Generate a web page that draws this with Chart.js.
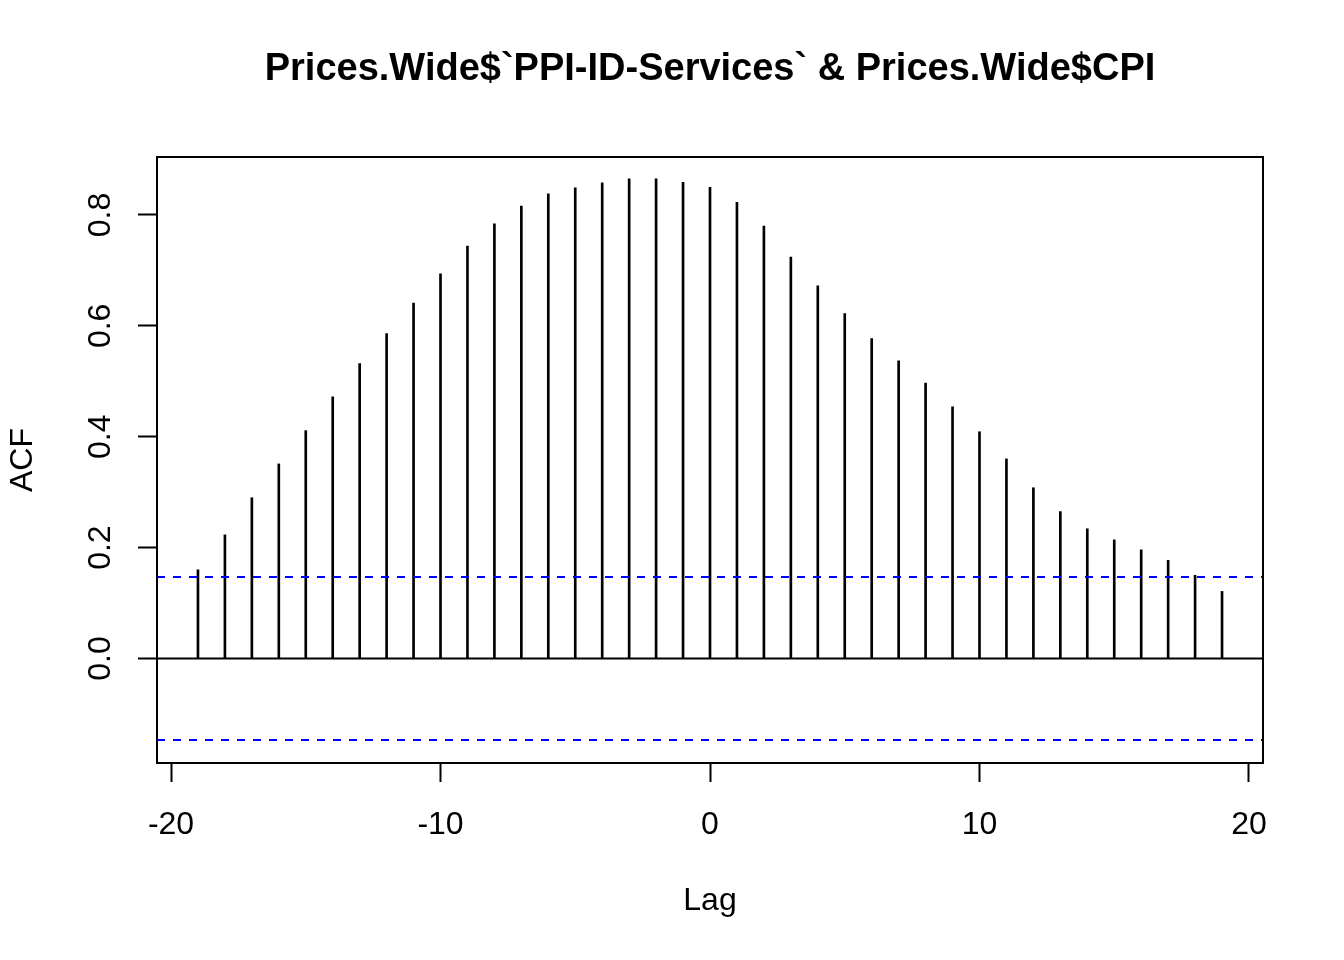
<!DOCTYPE html>
<html>
<head>
<meta charset="utf-8">
<script src="https://cdn.jsdelivr.net/npm/chart.js@4/dist/chart.umd.min.js"></script>
<style>
  html, body { margin: 0; padding: 0; background: #ffffff; }
  #wrap { width: 1344px; height: 960px; }
</style>
</head>
<body>
<div id="wrap"><canvas id="c" width="1344" height="960"></canvas></div>
<script>
// ---- data ----
const lags = [-19,-18,-17,-16,-15,-14,-13,-12,-11,-10,-9,-8,-7,-6,-5,-4,-3,-2,-1,0,1,2,3,4,5,6,7,8,9,10,11,12,13,14,15,16,17,18,19];
const acfValues = [0.160,0.223,0.290,0.351,0.411,0.472,0.532,0.586,0.641,0.694,0.744,0.784,0.816,0.838,0.849,0.858,0.865,0.865,0.859,0.850,0.823,0.780,0.724,0.672,0.622,0.577,0.537,0.497,0.454,0.409,0.360,0.308,0.265,0.234,0.214,0.196,0.177,0.150,0.121];
const ciBound = 0.147;
const xTicks = [-20, -10, 0, 10, 20];
const xTickLabels = ["-20", "-10", "0", "10", "20"];
const yTicks = [0, 0.2, 0.4, 0.6, 0.8];
const yTickLabels = ["0.0", "0.2", "0.4", "0.6", "0.8"];
const xRange = [-20.52, 20.52];
const yRange = [-0.1885, 0.9046];
const titleText = "Prices.Wide$`PPI-ID-Services` & Prices.Wide$CPI";
const xTitle = "Lag";
const yTitle = "ACF";

// ---- chart ----
const FONT = "'Liberation Sans', Arial, sans-serif";

const boxPlugin = {
  id: 'boxPlugin',
  afterDatasetsDraw(chart) {
    const { ctx, chartArea: a } = chart;
    ctx.save();
    ctx.strokeStyle = '#000000';
    ctx.lineWidth = 2;
    ctx.strokeRect(a.left, a.top, a.right - a.left, a.bottom - a.top);
    ctx.restore();
  }
};

new Chart(document.getElementById('c'), {
  type: 'bar',
  data: {
    datasets: [
      {
        type: 'bar',
        data: lags.map((l, i) => ({ x: l, y: acfValues[i] })),
        backgroundColor: '#000000',
        borderWidth: 0,
        barThickness: 2,
        order: 3
      },
      {
        type: 'line',
        data: xRange.map(x => ({ x: x, y: 0 })),
        borderColor: '#000000',
        borderWidth: 2,
        pointRadius: 0,
        order: 1
      },
      {
        type: 'line',
        data: xRange.map(x => ({ x: x, y: ciBound })),
        borderColor: '#0000ff',
        borderWidth: 2,
        borderDash: [8, 8],
        pointRadius: 0,
        order: 2
      },
      {
        type: 'line',
        data: xRange.map(x => ({ x: x, y: -ciBound })),
        borderColor: '#0000ff',
        borderWidth: 2,
        borderDash: [8, 8],
        pointRadius: 0,
        order: 2
      }
    ]
  },
  options: {
    responsive: false,
    animation: false,
    devicePixelRatio: 1,
    layout: { padding: { left: 0, right: 81, top: 0, bottom: 0 } },
    plugins: {
      legend: { display: false },
      tooltip: { enabled: false },
      title: {
        display: true,
        text: titleText,
        fullSize: false,
        color: '#000000',
        font: { family: FONT, size: 38, weight: 'bold' },
        padding: { top: 47, bottom: 64.4 }
      }
    },
    scales: {
      x: {
        type: 'linear',
        position: 'bottom',
        min: xRange[0],
        max: xRange[1],
        offset: false,
        afterBuildTicks: s => { s.ticks = xTicks.map(v => ({ value: v })); },
        afterFit: s => { s.height = 197; },
        ticks: {
          callback: (v, i) => xTickLabels[i],
          color: '#000000',
          font: { family: FONT, size: 32 },
          padding: 23.5,
          maxRotation: 0,
          autoSkip: false
        },
        grid: {
          display: true,
          offset: false,
          drawOnChartArea: false,
          drawTicks: true,
          tickLength: 19,
          tickWidth: 2,
          tickColor: '#000000'
        },
        border: { display: false },
        title: {
          display: true,
          text: xTitle,
          color: '#000000',
          font: { family: FONT, size: 32 },
          padding: { top: 0, bottom: 39.5 }
        }
      },
      y: {
        type: 'linear',
        position: 'left',
        min: yRange[0],
        max: yRange[1],
        afterBuildTicks: s => { s.ticks = yTicks.map(v => ({ value: v })); },
        afterFit: s => { s.width = 157; },
        ticks: {
          callback: (v, i) => yTickLabels[i],
          color: '#000000',
          font: { family: FONT, size: 32 },
          padding: 15,
          minRotation: 90,
          maxRotation: 90,
          crossAlign: 'center',
          autoSkip: false
        },
        grid: {
          display: true,
          drawOnChartArea: false,
          drawTicks: true,
          tickLength: 19,
          tickWidth: 2,
          tickColor: '#000000'
        },
        border: { display: false },
        title: {
          display: true,
          text: yTitle,
          color: '#000000',
          font: { family: FONT, size: 32 },
          padding: { top: 4, bottom: 0 }
        }
      }
    }
  },
  plugins: [boxPlugin]
});
</script>
</body>
</html>
